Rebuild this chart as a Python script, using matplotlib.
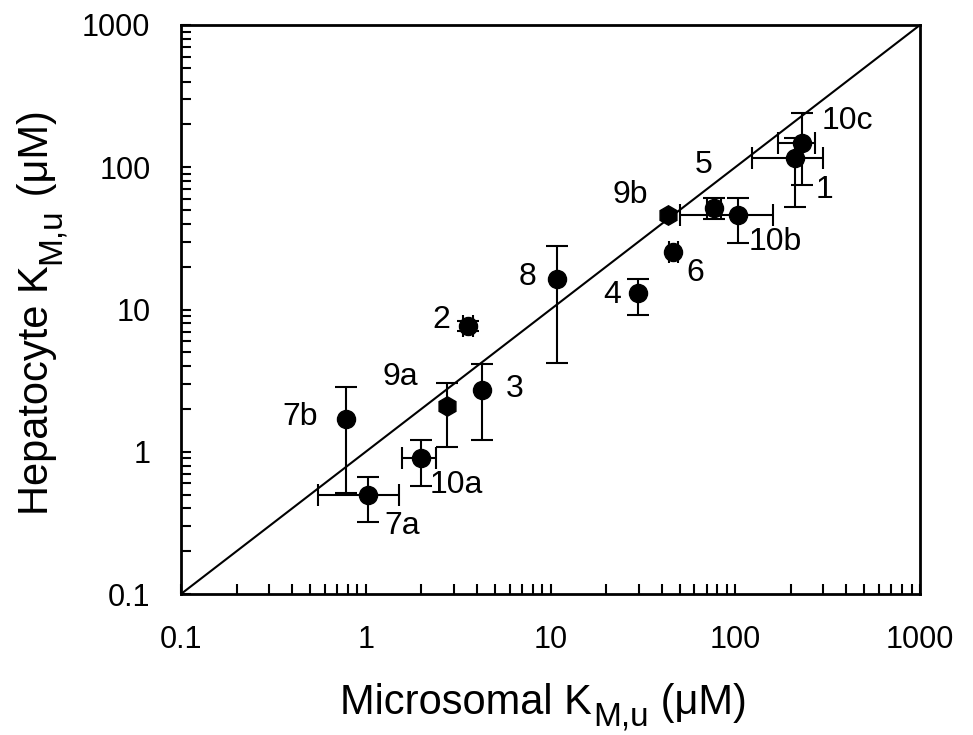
import numpy as np
import matplotlib
matplotlib.use("Agg")
import matplotlib.pyplot as plt
from matplotlib.ticker import LogLocator, FixedLocator, NullFormatter

plt.rcParams['font.family'] = ['Liberation Sans', 'DejaVu Sans']

# ---- data ----
labels = ["7b", "7a", "10a", "9a", "3", "2", "8", "4", "6", "9b", "5", "10b", "1", "10c"]
x_vals = [0.78, 1.03, 1.99, 2.75, 4.26, 3.57, 10.8, 29.8, 46.0, 43.2, 76.7, 103.5, 210, 229]
y_vals = [1.71, 0.50, 0.91, 2.11, 2.73, 7.7, 16.3, 13.0, 25.2, 45.9, 51.4, 45.9, 115.6, 147.6]
x_low = [None, 0.55, 1.57, None, None, 3.35, None, None, 44.0, None, 70.0, 50.2, 123, 171]
x_high = [None, 1.51, 2.40, None, None, 3.80, None, None, 49.0, None, 84.0, 160, 298, 270]
y_low = [0.51, 0.32, 0.57, 1.08, 1.21, 7.1, 4.24, 9.08, None, None, 43.1, 29.2, 52.2, 74.7]
y_high = [2.87, 0.66, 1.21, 3.06, 4.17, 8.3, 27.8, 16.5, None, None, 60.5, 60.5, 160, 240]
markers = ["o", "o", "o", "h", "o", "o", "o", "o", "o", "h", "o", "o", "o", "o"]
label_x = [0.44, 1.58, 3.08, 1.53, 6.43, 2.55, 7.55, 21.5, 60.5, 26.9, 67.7, 164, 306, 407]
label_y = [1.75, 0.30, 0.58, 3.37, 2.78, 8.4, 17.0, 12.6, 18.0, 63.5, 103, 29.6, 68.9, 211]
identity = [0.1, 1000]
ticks = [0.1, 1, 10, 100, 1000]
tick_labels = ["0.1", "1", "10", "100", "1000"]
xlabel_parts = ["Microsomal K", "M,u", " (μM)"]
ylabel_parts = ["Hepatocyte K", "M,u", " (μM)"]

fig = plt.figure(figsize=(9.73, 7.35), dpi=100)
ax = fig.add_axes([181/973, 1 - 594/735, (920-181)/973, (594-25)/735])
ax.set_xscale('log')
ax.set_yscale('log')
ax.set_xlim(0.1, 1000)
ax.set_ylim(0.1, 1000)

ax.plot(identity, identity, color='black', lw=1.5, zorder=1)

for i in range(len(labels)):
    xe = None
    ye = None
    if x_low[i] is not None:
        xe = [[x_vals[i] - x_low[i]], [x_high[i] - x_vals[i]]]
    if y_low[i] is not None:
        ye = [[y_vals[i] - y_low[i]], [y_high[i] - y_vals[i]]]
    ax.errorbar([x_vals[i]], [y_vals[i]], xerr=xe, yerr=ye, fmt=markers[i],
                color='black', ms=13 if markers[i] == 'o' else 14,
                ecolor='black', elinewidth=1.5, capsize=8, capthick=1.5, zorder=3)
    ax.text(label_x[i], label_y[i], labels[i], fontsize=23, ha='center', va='center')

ax.xaxis.set_major_locator(FixedLocator(ticks))
ax.yaxis.set_major_locator(FixedLocator(ticks))
ax.set_xticklabels(tick_labels)
ax.set_yticklabels(tick_labels)
ax.xaxis.set_minor_locator(LogLocator(base=10, subs=np.arange(2, 10), numticks=20))
ax.yaxis.set_minor_locator(LogLocator(base=10, subs=np.arange(2, 10), numticks=20))
ax.xaxis.set_minor_formatter(NullFormatter())
ax.yaxis.set_minor_formatter(NullFormatter())
ax.tick_params(which='both', direction='in', top=False, right=False, width=1.5, length=7,
               labelsize=22)
ax.tick_params(axis='x', which='major', pad=22)
ax.tick_params(axis='y', which='major', pad=22)
for s in ax.spines.values():
    s.set_linewidth(2)

# x label built from pieces (larger subscript like the reference)
big, small = 30, 24
t1 = fig.text(340/973, 1 - 714/735, xlabel_parts[0], fontsize=big, ha='left', va='baseline')
t2 = ax.annotate(xlabel_parts[1], xy=(1, 0), xycoords=t1, xytext=(1, -7),
                 textcoords='offset points', fontsize=small, ha='left', va='bottom',
                 annotation_clip=False)
t3 = ax.annotate(xlabel_parts[2], xy=(1, 0), xycoords=t2, xytext=(0, 7),
                 textcoords='offset points', fontsize=big, ha='left', va='bottom',
                 annotation_clip=False)

# y label built from pieces, rotated
u1 = fig.text(57/973, 1 - 515/735, ylabel_parts[0], fontsize=big, rotation=90,
              ha='right', va='bottom')
u2 = ax.annotate(ylabel_parts[1], xy=(1, 1), xycoords=u1, xytext=(7, 1),
                 textcoords='offset points', fontsize=small, rotation=90,
                 ha='right', va='bottom', annotation_clip=False)
u3 = ax.annotate(ylabel_parts[2], xy=(1, 1), xycoords=u2, xytext=(-7, 0),
                 textcoords='offset points', fontsize=big, rotation=90,
                 ha='right', va='bottom', annotation_clip=False)

fig.savefig('out.png', dpi=100)
